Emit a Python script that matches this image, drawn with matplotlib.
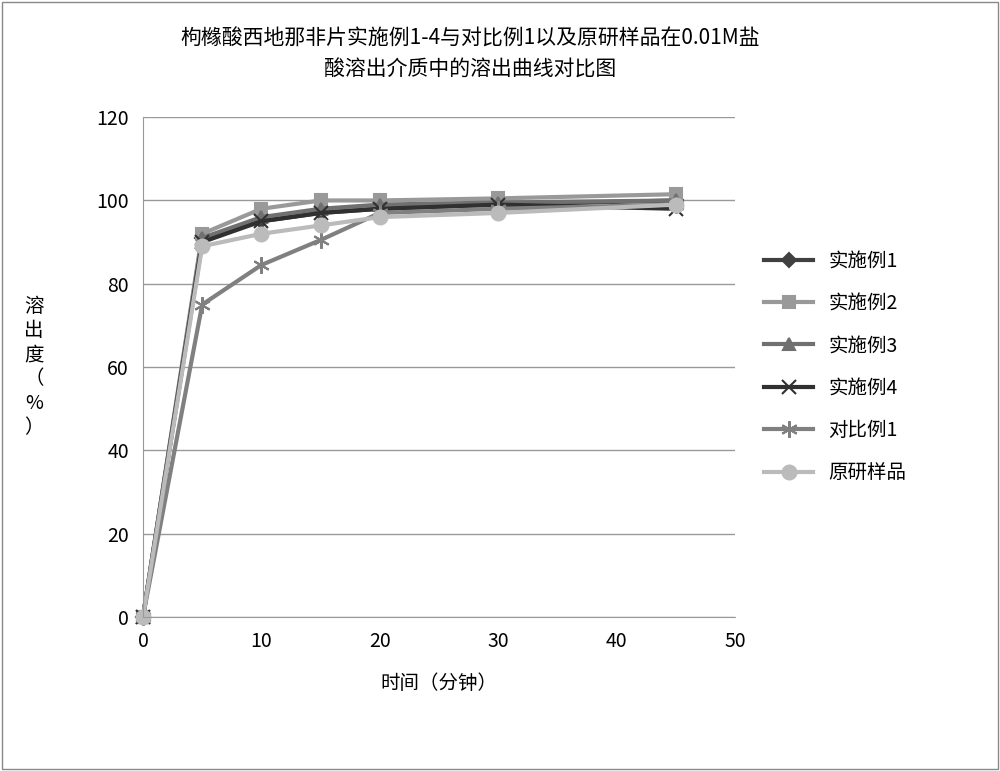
import matplotlib
matplotlib.use("Agg")
import matplotlib.pyplot as plt
from matplotlib.patches import Rectangle

plt.rcParams['font.family'] = ['Noto Sans CJK SC', 'DejaVu Sans']

t = [0, 5, 10, 15, 20, 30, 45]
s1 = [0, 91, 95, 97, 98, 99, 100]
s2 = [0, 92, 98, 100, 100, 100.5, 101.5]
s3 = [0, 91, 96, 98, 99, 99.5, 100]
s4 = [0, 90, 95, 97, 98, 99, 98]
c1 = [0, 75, 84.5, 90.5, 97, 98, 99]
orig = [0, 89, 92, 94, 96, 97, 99]
names = ['实施例1', '实施例2', '实施例3', '实施例4', '对比例1', '原研样品']

fig = plt.figure(figsize=(10, 7.71), dpi=100)
fig.patches.append(Rectangle((0.002, 0.002), 0.996, 0.996, transform=fig.transFigure,
                             fill=False, edgecolor='#888888', lw=1))
ax = fig.add_axes([0.143, 0.2, 0.592, 0.648])
styles = [
    (s1, '#404040', 'D', 7),
    (s2, '#999999', 's', 9),
    (s3, '#707070', '^', 9),
    (s4, '#303030', 'x', 10),
    (c1, '#808080', (6, 2, 0), 12),
    (orig, '#bbbbbb', 'o', 10),
]
for (y, c, m, ms), n in zip(styles, names):
    ax.plot(t, y, color=c, marker=m, markersize=ms, lw=3, label=n, mew=1.5, clip_on=False)
ax.set_xlim(0, 50)
ax.set_ylim(0, 120)
ax.set_xticks(range(0, 51, 10))
ax.set_yticks(range(0, 121, 20))
ax.yaxis.grid(True, color='#999999', lw=1)
for s in ['top', 'right']:
    ax.spines[s].set_visible(False)
ax.spines['left'].set_color('#999999')
ax.spines['bottom'].set_color('#999999')
ax.tick_params(labelsize=14, length=0, pad=10)
ax.set_xlabel('时间（分钟）', fontsize=14, labelpad=15)
ax.set_ylabel('溶\n出\n度\n（\n%\n）', fontsize=14, rotation=0, labelpad=45, va='center')
fig.text(0.47, 0.93, '枸橼酸西地那非片实施例1-4与对比例1以及原研样品在0.01M盐\n酸溶出介质中的溶出曲线对比图',
         ha='center', va='center', fontsize=15, linespacing=1.5)
ax.legend(loc='center left', bbox_to_anchor=(1.02, 0.5), frameon=False, fontsize=14,
          labelspacing=1.1, handlelength=2.5)
fig.savefig('out.png')
